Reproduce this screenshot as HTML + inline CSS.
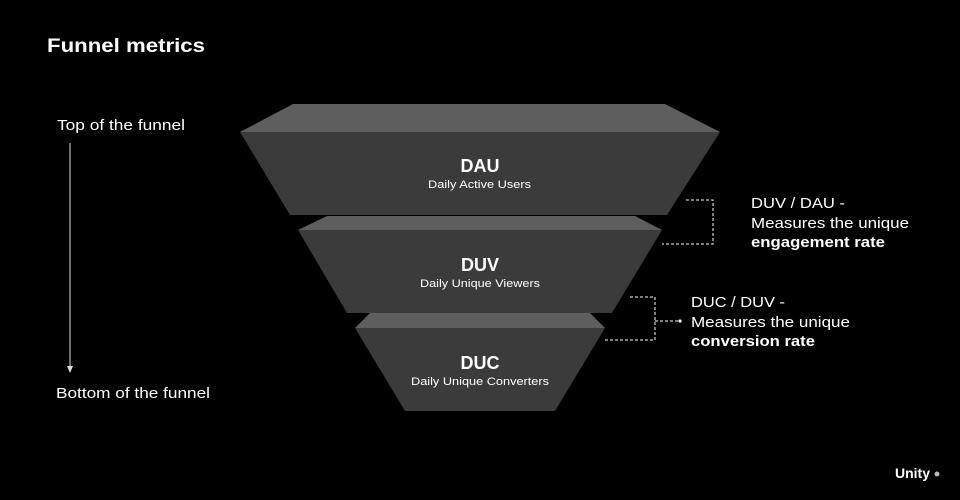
<!DOCTYPE html>
<html><head><meta charset="utf-8"><style>
html,body{margin:0;padding:0;background:#000;}
svg{display:block;}
text{font-family:"Liberation Sans",sans-serif;fill:#fff;}
</style></head><body>
<svg width="960" height="500" viewBox="0 0 960 500" xmlns="http://www.w3.org/2000/svg">
<rect width="960" height="500" fill="#000"/>
<text x="47" y="52" font-size="19" font-weight="bold" textLength="158" lengthAdjust="spacingAndGlyphs">Funnel metrics</text>
<text x="57" y="130" font-size="15" fill="#e8e8e8" textLength="128" lengthAdjust="spacingAndGlyphs">Top of the funnel</text>
<text x="56" y="398" font-size="15" fill="#e8e8e8" textLength="154" lengthAdjust="spacingAndGlyphs">Bottom of the funnel</text>
<line x1="70" y1="143" x2="70" y2="368" stroke="#ddd" stroke-width="1"/>
<polygon points="67,366 73,366 70,373" fill="#ddd"/>
<polygon points="293,104 665,104 720,132 240,132" fill="#5e5e5e"/>
<polygon points="240,132 720,132 667,215 290,215" fill="#3b3b3b"/>
<polygon points="327,216 635,216 662,230 298,230" fill="#5e5e5e"/>
<polygon points="298,230 662,230 612,313 347,313" fill="#3b3b3b"/>
<polygon points="370,313 590,313 605,328 355,328" fill="#5e5e5e"/>
<polygon points="355,328 605,328 555,411 405,411" fill="#3b3b3b"/>
<text x="480" y="172" font-size="18" font-weight="bold" text-anchor="middle">DAU</text>
<text x="428" y="188" font-size="11" fill="#e6e6e6" textLength="103" lengthAdjust="spacingAndGlyphs">Daily Active Users</text>
<text x="480" y="271" font-size="18" font-weight="bold" text-anchor="middle">DUV</text>
<text x="420" y="287" font-size="11" fill="#e6e6e6" textLength="120" lengthAdjust="spacingAndGlyphs">Daily Unique Viewers</text>
<text x="480" y="369" font-size="18" font-weight="bold" text-anchor="middle">DUC</text>
<text x="411" y="385" font-size="11" fill="#e6e6e6" textLength="138" lengthAdjust="spacingAndGlyphs">Daily Unique Converters</text>
<g stroke="#fff" stroke-width="1" stroke-dasharray="3,2" fill="none">
<polyline points="686,200 713,200 713,244 662,244"/>
<polyline points="630,297 655,297 655,340 605,340"/>
<line x1="655" y1="321" x2="678" y2="321"/>
</g>
<circle cx="680" cy="321" r="1.6" fill="#fff"/>
<text x="751" y="208" font-size="14.5" fill="#eee" textLength="94" lengthAdjust="spacingAndGlyphs">DUV / DAU -</text>
<text x="751" y="228" font-size="14.5" fill="#eee" textLength="158" lengthAdjust="spacingAndGlyphs">Measures the unique</text>
<text x="751" y="247" font-size="14.5" font-weight="bold" textLength="134" lengthAdjust="spacingAndGlyphs">engagement rate</text>
<text x="691" y="307" font-size="14.5" fill="#eee" textLength="94" lengthAdjust="spacingAndGlyphs">DUC / DUV -</text>
<text x="691" y="327" font-size="14.5" fill="#eee" textLength="159" lengthAdjust="spacingAndGlyphs">Measures the unique</text>
<text x="691" y="346" font-size="14.5" font-weight="bold" textLength="124" lengthAdjust="spacingAndGlyphs">conversion rate</text>
<text x="895" y="478" font-size="14" font-weight="bold">Unity</text>
<circle cx="937" cy="474" r="2.5" fill="#bbb"/>
</svg>
</body></html>
